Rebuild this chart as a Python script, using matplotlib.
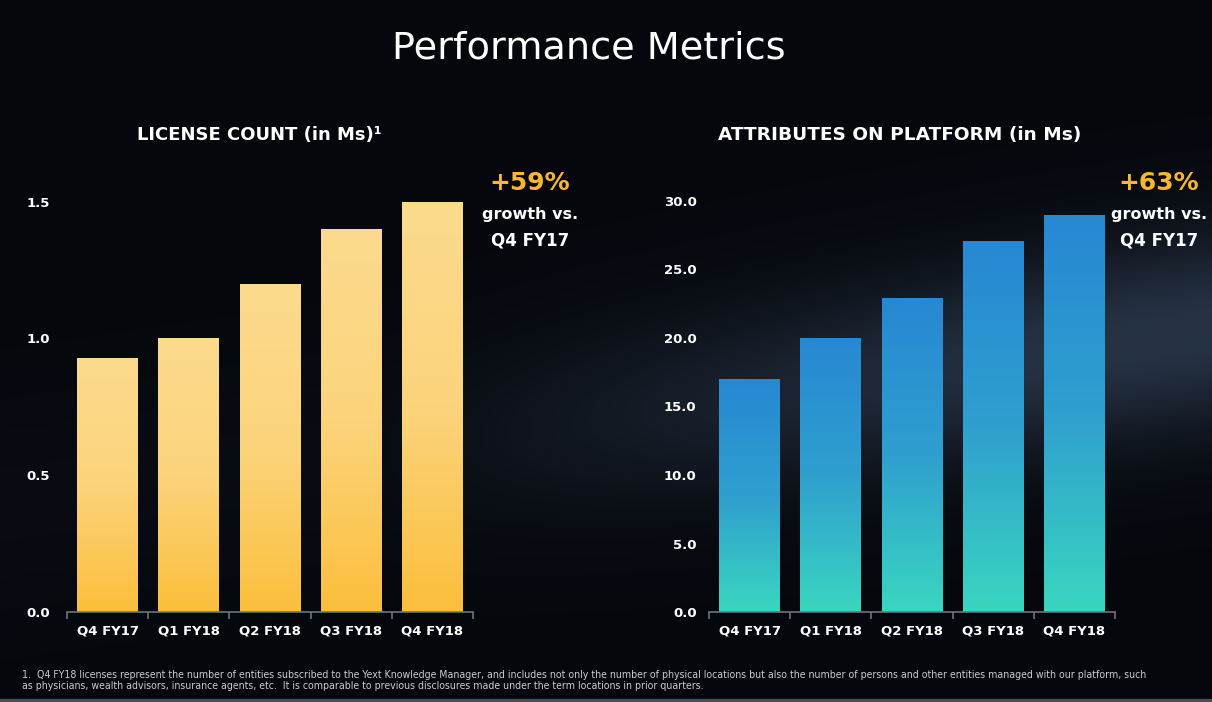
import numpy as np
import matplotlib
matplotlib.use("Agg")
import matplotlib.pyplot as plt
from matplotlib.colors import LinearSegmentedColormap

# data
quarters = ["Q4 FY17", "Q1 FY18", "Q2 FY18", "Q3 FY18", "Q4 FY18"]
license_count = [0.93, 1.00, 1.20, 1.40, 1.50]      # millions
attributes = [17.0, 20.0, 22.9, 27.1, 29.0]          # millions
license_ticks = [0.0, 0.5, 1.0, 1.5]
attr_ticks = [0.0, 5.0, 10.0, 15.0, 20.0, 25.0, 30.0]

plt.rcParams['font.family'] = ['DejaVu Sans']

fig = plt.figure(figsize=(12.12, 7.02), dpi=100)

#background: dark slide with a faint bluish haze band
bg = fig.add_axes([0, 0, 1, 1])
bg.set_axis_off()
yy, xx = np.mgrid[0:1:351j, 0:1:606j]
band = 0.72 - 0.25 * xx            # centre line of the haze (from top)
glow = np.exp(-((yy - band) / 0.14) ** 2) * np.clip((xx - 0.25) * 1.6, 0.1, 1.0)
base = np.array([0.02, 0.03, 0.05])
haze = np.array([0.15, 0.20, 0.27])
img = base[None, None, :] + glow[..., None] * (haze - base)[None, None, :]
bg.imshow(img, extent=[0, 1, 0, 1], aspect='auto', origin='upper')
bg.set_xlim(0, 1)
bg.set_ylim(0, 1)
bg.axhspan(0, 0.004, color='#4a4f57')

yellow = LinearSegmentedColormap.from_list("yel", ["#fbbf3c", "#fcd47c", "#fddb8e"])
bluegreen = LinearSegmentedColormap.from_list("bg", ["#3ad6c0", "#2f9fcf", "#2788d3"])


def gradient_bars(ax, values, cmap):
    bars = ax.bar(range(len(values)), values, width=0.75, color='none', zorder=3)
    grad = np.linspace(0, 1, 256).reshape(-1, 1)
    for b in bars:
        x0 = b.get_x()
        im = ax.imshow(grad, cmap=cmap, origin='lower', aspect='auto',
                       extent=[x0, x0 + b.get_width(), 0, b.get_height()], zorder=2)
        im.set_clip_path(b)
    return bars


def style_axis(ax, ticks, fmt, ylim, ypad):
    ax.set_facecolor('none')
    ax.set_xlim(-0.5, len(quarters) - 0.5)
    ax.set_ylim(*ylim)
    for s in ['top', 'right', 'left']:
        ax.spines[s].set_visible(False)
    ax.spines['bottom'].set_color('#6b7480')
    ax.spines['bottom'].set_linewidth(1.2)
    ax.set_xticks(range(len(quarters)))
    ax.set_xticklabels(quarters)
    ax.set_xticks(np.arange(-0.5, len(quarters)), minor=True)
    ax.tick_params(axis='x', which='major', length=0, pad=9, labelsize=9.5, labelcolor='white')
    ax.tick_params(axis='x', which='minor', length=5, color='#6b7480', width=1.2)
    ax.set_yticks(ticks)
    ax.set_yticklabels([fmt.format(t) for t in ticks])
    ax.tick_params(axis='y', length=0, pad=ypad, labelsize=9.5, labelcolor='white')
    for lab in ax.get_xticklabels() + ax.get_yticklabels():
        lab.set_fontweight('bold')


ax1 = fig.add_axes([0.0553, 0.1282, 0.335, 0.604])
gradient_bars(ax1, license_count, yellow)
style_axis(ax1, license_ticks, "{:.1f}", (0, 1.55), 12)

ax2 = fig.add_axes([0.585, 0.1282, 0.335, 0.605])
gradient_bars(ax2, attributes, bluegreen)
style_axis(ax2, attr_ticks, "{:.1f}", (0, 31), 9)

#titles
fig.text(0.486, 0.931, "Performance Metrics", color='white', fontsize=27.5,
         ha='center', va='center')
fig.text(0.214, 0.807, "LICENSE COUNT (in Ms)\u00b9", color='white', fontsize=13,
         fontweight='bold', ha='center', va='center')
fig.text(0.742, 0.807, "ATTRIBUTES ON PLATFORM (in Ms)", color='white', fontsize=13.3,
         fontweight='bold', ha='center', va='center')

#growth callouts
for xc, pct in [(0.437, "+59%"), (0.956, "+63%")]:
    fig.text(xc, 0.739, pct, color='#f7b733', fontsize=18, fontweight='bold',
             ha='center', va='center')
    fig.text(xc, 0.695, "growth vs.", color='white', fontsize=11.5, fontweight='bold',
             ha='center', va='center')
    fig.text(xc, 0.657, "Q4 FY17", color='white', fontsize=12, fontweight='bold',
             ha='center', va='center')

#footnote
note = ("1.  Q4 FY18 licenses represent the number of entities subscribed to the Yext Knowledge Manager, "
        "and includes not only the number of physical locations but also the number of persons and other "
        "entities managed with our platform, such\n"
        "as physicians, wealth advisors, insurance agents, etc.  It is comparable to previous disclosures "
        "made under the term locations in prior quarters.")
fig.text(0.018, 0.016, note, color='#c9cbcf', fontsize=7.6, fontstretch='condensed',
         ha='left', va='bottom', linespacing=1.05)

fig.savefig("out.png", dpi=100)
